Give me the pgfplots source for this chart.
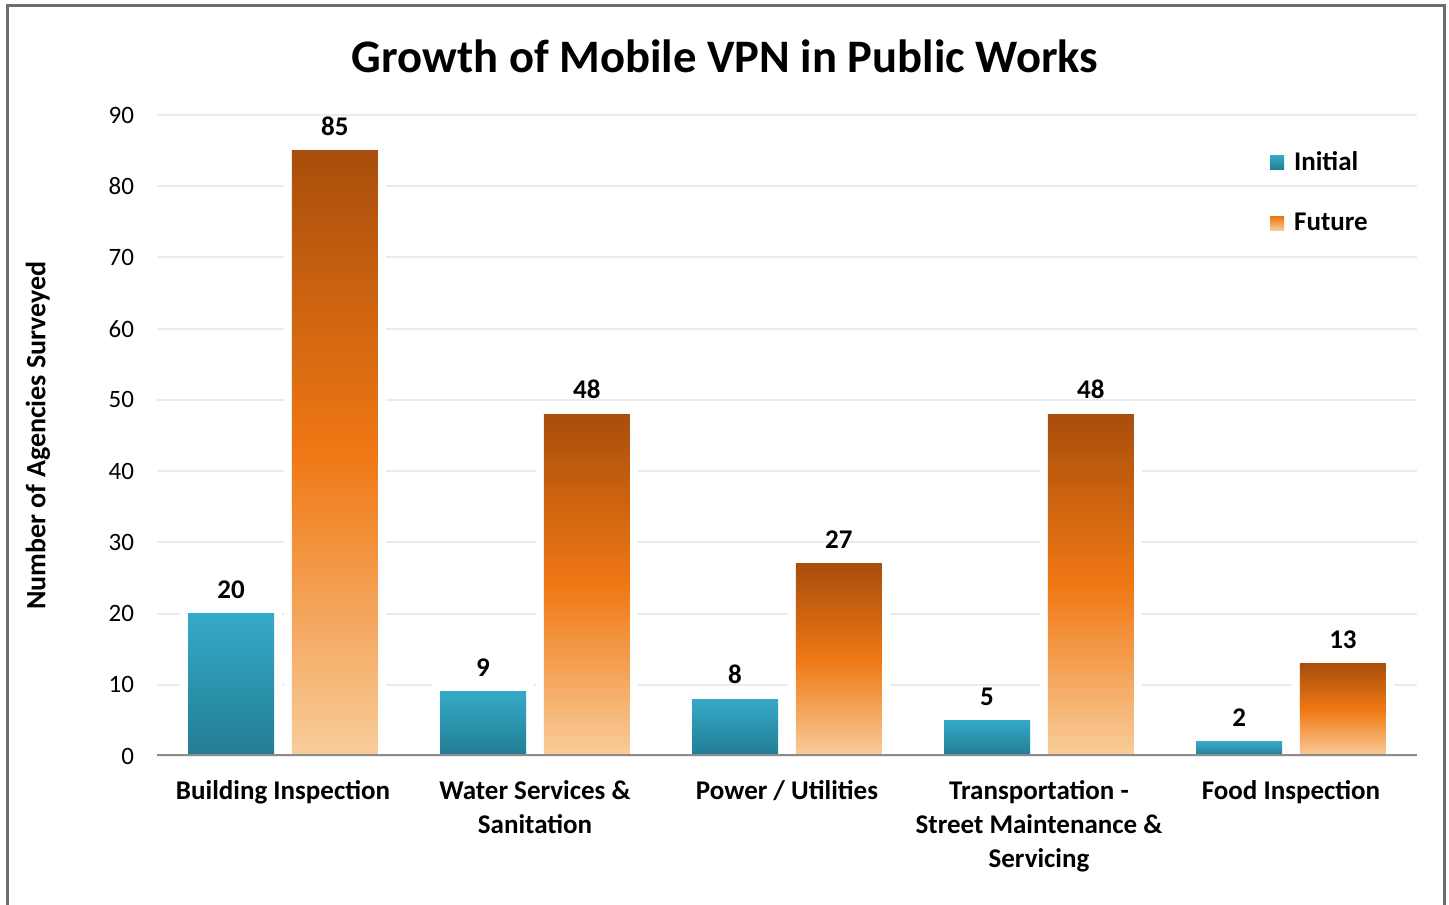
\documentclass[border=0pt]{standalone}
\usepackage{fontspec}
\setmainfont{Carlito}
\usepackage{pgfplots}
\pgfplotsset{compat=1.18}
\definecolor{initTop}{RGB}{52,170,200}
\definecolor{initBot}{RGB}{34,124,147}
\definecolor{futTop}{RGB}{168,78,12}
\definecolor{futMid}{RGB}{240,120,20}
\definecolor{futBot}{RGB}{248,205,155}
\definecolor{gridc}{RGB}{235,235,235}
\definecolor{axisc}{RGB}{140,140,140}
\definecolor{framec}{RGB}{110,110,110}
\pgfplotsset{
  ini/.style={ybar, bar width=0.341, bar shift=-0.206, draw=none,
    top color=initTop, bottom color=initBot,
    preaction={draw=white, line width=8pt},
    every node near coord/.append style={xshift=-25.96pt},
    legend image code/.code={\fill[top color=initTop, bottom color=initBot] (0pt,-3.5pt) rectangle (7pt,3.5pt);}},
  fut/.style={ybar, bar width=0.341, bar shift=0.206, draw=none,
    top color=futTop, bottom color=futBot, middle color=futMid,
    preaction={draw=white, line width=8pt},
    every node near coord/.append style={xshift=25.96pt},
    legend image code/.code={\fill[top color=futMid, bottom color=futBot] (0pt,-3.5pt) rectangle (7pt,3.5pt);}},
}
\begin{document}
\begin{tikzpicture}
\useasboundingbox (0,0) rectangle (724.5pt,452pt);
\fill[white] (0,0) rectangle (724.5pt,452pt);
\draw[framec, line width=1.5pt] (3.5pt,-10pt) rectangle (722pt,449pt);
\node[font=\fontsize{23.3}{27}\selectfont\bfseries] at (362.5pt,424pt) {Growth of Mobile VPN in Public Works};
\begin{axis}[
  scale only axis,
  width=630pt, height=320.5pt,
  anchor=south west, at={(78.5pt,74pt)},
  xmin=-0.5, xmax=4.5, ymin=0, ymax=90,
  xtick={0,1,2,3,4},
  xticklabels={Building Inspection, Water Services \&\\Sanitation, Power / Utilities, Transportation -\\Street Maintenance \&\\Servicing, Food Inspection},
  ytick={0,10,...,90},
  major tick length=0pt,
  axis line style={draw=none},
  ymajorgrids,
  grid style={gridc, line width=1pt},
  /pgf/number format/assume math mode=true,
  yticklabel style={font=\fontsize{12.5}{14}\selectfont, xshift=-8pt},
  xticklabel style={font=\fontsize{13.5}{17}\selectfont\bfseries, align=center, anchor=north, yshift=-8.5pt},
  ylabel={Number of Agencies Surveyed},
  ylabel style={font=\fontsize{14}{16}\selectfont\bfseries, at={(axis description cs:-0.0944,0.5)}, anchor=center},
  nodes near coords,
  every node near coord/.append style={font=\fontsize{13.5}{15}\selectfont\bfseries, yshift=4pt},
  legend style={at={(0.872,0.956)}, anchor=north west, draw=none, fill=none,
    font=\fontsize{13.5}{15}\selectfont\bfseries, row sep=15.5pt,
    nodes={inner xsep=1pt, inner ysep=2pt}},
  legend cell align=left,
]
% Initial: 20, 9, 8, 5, 2 ; Future: 85, 48, 27, 48, 13
\addplot[ini] coordinates {(0,20)};
\addlegendentry{Initial}
\addplot[fut] coordinates {(0,85)};
\addlegendentry{Future}
\addplot[ini, forget plot] coordinates {(1,9)};
\addplot[ini, forget plot] coordinates {(2,8)};
\addplot[ini, forget plot] coordinates {(3,5)};
\addplot[ini, forget plot] coordinates {(4,2)};
\addplot[fut, forget plot] coordinates {(1,48)};
\addplot[fut, forget plot] coordinates {(2,27)};
\addplot[fut, forget plot] coordinates {(3,48)};
\addplot[fut, forget plot] coordinates {(4,13)};
\draw[axisc, line width=1.5pt] (axis cs:-0.5,0) -- (axis cs:4.5,0);
\end{axis}
\end{tikzpicture}
\end{document}
